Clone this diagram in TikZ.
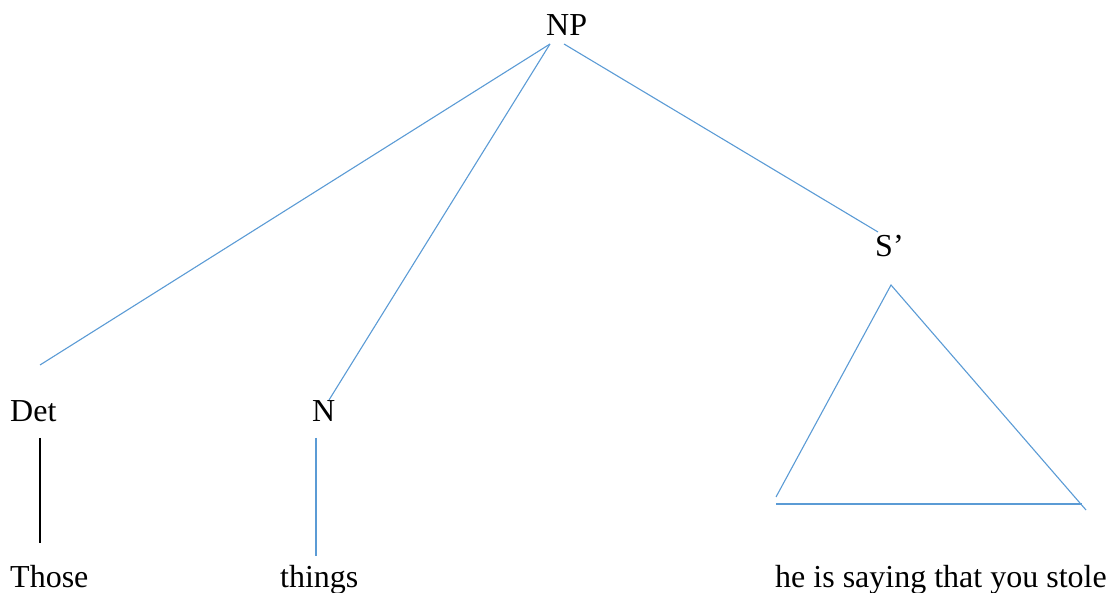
\documentclass[tikz,border=0pt]{standalone}
\usepackage{fontspec}
\setmainfont{Liberation Serif}
\usepackage{tikz}
\usetikzlibrary{positioning}
\definecolor{branchblue}{HTML}{5B9BD5}

\tikzset{
  word/.style={inner sep=0pt, anchor=base west, font=\fontsize{32}{37}\selectfont},
  branch/.style={draw=branchblue, line width=1.1pt},
  stem/.style={draw=black, line width=1.8pt}
}

\begin{document}
\begin{tikzpicture}[x=1pt,y=-1pt]
      \useasboundingbox (0,0) rectangle (1109,593);

      \node[word] (np) at (546,36) {NP};
      \node[word] (det) at (10,422) {Det};
      \node[word] (n) at (312,422) {N};
      \node[word] (sbar) at (875,257) {S’};
      \node[word] (those) at (10,587) {Those};
      \node[word] (things) at (280,587) {things};
      \node[word] (clause) at (775,587) {he is saying that you stole};

      \coordinate (np-l) at (550,44);
      \coordinate (np-r) at (564,44);
      \coordinate (det-t) at (40,365);
      \coordinate (n-t) at (329,400);
      \coordinate (sbar-t) at (878,232);
      \coordinate (det-b) at (40,438);
      \coordinate (those-t) at (40,543);
      \coordinate (n-b) at (316,438);
      \coordinate (things-t) at (316,556);

      \coordinate (apex) at (891,285);
      \coordinate (left) at (776,497);
      \coordinate (base-l) at (776,504);
      \coordinate (base-r) at (1082,504);
      \coordinate (right) at (1086,510);

      \draw[branch] (np-l) -- (det-t);
      \draw[branch] (np-l) -- (n-t);
      \draw[branch] (np-r) -- (sbar-t);
      \draw[stem] (det-b) -- (those-t);
      \draw[branch] (n-b) -- (things-t);

      \draw[branch] (left) -- (apex) -- (right);
      \draw[branch] (base-l) -- (base-r);
    \end{tikzpicture}
\end{document}
